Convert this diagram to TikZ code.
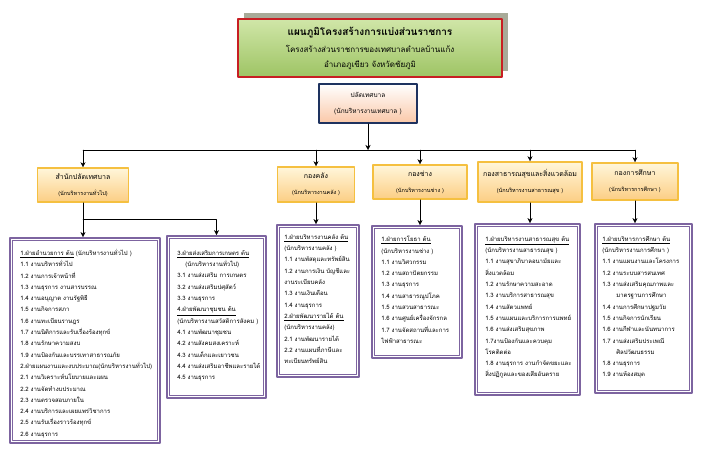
\documentclass[tikz,border=0pt]{standalone}
\usepackage{fontspec}
\newfontfamily\thaifont[Script=Thai]{Loma}
\usetikzlibrary{arrows.meta}
\definecolor{titlered}{RGB}{200,30,35}
\definecolor{titlegreen}{RGB}{158,196,100}
\definecolor{titlelight}{RGB}{208,230,168}
\definecolor{shadowgrey}{RGB}{168,170,152}
\definecolor{navy}{RGB}{30,50,95}
\definecolor{peach}{RGB}{250,200,168}
\definecolor{gold}{RGB}{245,192,64}
\definecolor{lightgold}{RGB}{255,246,218}
\definecolor{orangefill}{RGB}{252,206,132}
\definecolor{boxpurple}{RGB}{125,100,160}
\newcommand{\divtext}[2]{{\fontsize{7}{9}\selectfont #1}\\[4pt]{\fontsize{5.5}{7}\selectfont #2}}
\tikzset{
  titlebox/.style={draw=titlered, line width=1.6pt, top color=titlelight, bottom color=titlegreen,
    minimum width=264pt, minimum height=58pt, align=center, font=\fontsize{8}{15}\selectfont\thaifont},
  divbox/.style={draw=gold, line width=1.6pt, top color=lightgold, bottom color=orangefill,
    align=center, inner sep=0pt},
  subbox/.style={draw=boxpurple, line width=1.8pt, fill=white, inner sep=0pt},
  subline/.style={draw=boxpurple, line width=0.7pt},
  listtext/.style={anchor=north west, inner sep=0pt, align=left, font=\fontsize{6}{11.3}\selectfont\thaifont},
}
\begin{document}
\begin{tikzpicture}[x=1pt, y=-1pt, line join=round, line cap=round, >={Stealth[length=5pt,width=5pt]}, font=\thaifont]
\useasboundingbox[fill=white] (0,0) rectangle (702,465);
% title
\node[fill=shadowgrey, minimum width=264pt, minimum height=58pt] (titleshadow) at (376,42) {};
\node[titlebox] (title) at (370,48) {{\fontsize{10}{12}\selectfont\bfseries แผนภูมิโครงสร้างการแบ่งส่วนราชการ}\\[2pt]
  โครงสร้างส่วนราชการของเทศบาลตำบลบ้านแก้ง\\ อำเภอภูเขียว จังหวัดชัยภูมิ};
\node[draw=navy, line width=1.6pt, top color=white, bottom color=peach, minimum width=98pt, minimum height=39pt,
  align=center, font=\fontsize{6.5}{16}\selectfont\thaifont] (clerk) at (368,103.5) {ปลัดเทศบาล\\(นักบริหารงานเทศบาล )};
% divisions
\node[divbox, minimum width=91pt, minimum height=34pt] (office) at (83,185) {\divtext{สำนักปลัดเทศบาล}{(นักบริหารงานทั่วไป)}};
\node[divbox, minimum width=77pt, minimum height=35pt] (fin) at (316,184.5) {\divtext{กองคลัง}{(นักบริหารงานคลัง )}};
\node[divbox, minimum width=94pt, minimum height=34pt] (eng) at (420,182) {\divtext{กองช่าง}{(นักบริหารงานช่าง )}};
\node[divbox, minimum width=104pt, minimum height=40pt] (hlt) at (530,182) {\divtext{กองสาธารณสุขและสิ่งแวดล้อม}{(นักบริหารงานสาธารณสุข )}};
\node[divbox, minimum width=86pt, minimum height=37pt] (edu) at (635,181.5) {\divtext{กองการศึกษา}{(นักบริหารการศึกษา )}};
% sections
\node[subbox, minimum width=150pt, minimum height=205pt] (secA) at (85,340.5) {};
\node[subbox, minimum width=99pt, minimum height=162pt] (secB) at (216.5,317) {};
\node[subbox, minimum width=82pt, minimum height=152pt] (finsec) at (318,301) {};
\node[subbox, minimum width=90pt, minimum height=132pt] (engsec) at (417,292) {};
\node[subbox, minimum width=105pt, minimum height=171pt] (hltsec) at (527.5,309.5) {};
\node[subbox, minimum width=97pt, minimum height=169pt] (edusec) at (643.5,308.5) {};
\foreach \n in {secA,secB,finsec,engsec,hltsec,edusec}
  \draw[subline] ([shift={(3.5pt,-3.5pt)}]\n.north west) rectangle ([shift={(-3.5pt,3.5pt)}]\n.south east);
\node[listtext] (secAtext) at ([shift={(11pt,-12pt)}]secA.north west) {\underline{1.ฝ่ายอำนวยการ ต้น} (นักบริหารงานทั่วไป )\\
  1.1 งานบริหารทั่วไป\\ 1.2 งานการเจ้าหน้าที่\\ 1.3 งานธุรการ งานสารบรรณ\\ 1.4 งานอนุญาต งานรัฐพิธี\\
  1.5 งานกิจการสภา\\ 1.6 งานทะเบียนราษฎร\\ 1.7 งานนิติการและรับเรื่องร้องทุกข์\\ 1.8 งานรักษาความสงบ\\
  1.9 งานป้องกันและบรรเทาสาธารณภัย\\ 2.ฝ่ายแผนงานและงบประมาณ(นักบริหารงานทั่วไป)\\
  2.1 งานวิเคราะห์นโยบายและแผน\\ 2.2 งานจัดทำงบประมาณ\\ 2.3 งานตรวจสอบภายใน\\
  2.4 งานบริการและเผยแพร่วิชาการ\\ 2.5 งานรับเรื่องราวร้องทุกข์\\ 2.6 งานธุรการ};
\node[listtext] (secBtext) at ([shift={(11pt,-15pt)}]secB.north west) {\underline{3.ฝ่ายส่งเสริมการเกษตร ต้น}\\
  \hspace*{8pt}(นักบริหารงานทั่วไป)\\ 3.1 งานส่งเสริม การเกษตร\\ 3.2 งานส่งเสริมปศุสัตว์\\ 3.3 งานธุรการ\\
  \underline{4.ฝ่ายพัฒนาชุมชน ต้น}\\ (นักบริหารงานสวัสดิการสังคม )\\ 4.1 งานพัฒนาชุมชน\\
  4.2 งานสังคมสงเคราะห์\\ 4.3 งานเด็กและเยาวชน\\ 4.4 งานส่งเสริมอาชีพและรายได้\\ 4.5 งานธุรการ};
\node[listtext] (fintext) at ([shift={(8pt,-10pt)}]finsec.north west) {\underline{1.ฝ่ายบริหารงานคลัง ต้น}\\
  (นักบริหารงานคลัง )\\ 1.1 งานพัสดุและทรัพย์สิน\\ 1.2 งานการเงิน บัญชีและ\\ งานระเบียบคลัง\\
  1.3 งานเงินเดือน\\ 1.4 งานธุรการ\\ \underline{2.ฝ่ายพัฒนารายได้ ต้น}\\ (นักบริหารงานคลัง)\\
  2.1 งานพัฒนารายได้\\ 2.2 งานแผนที่ภาษีและ\\ ทะเบียนทรัพย์สิน};
\node[listtext] (engtext) at ([shift={(10pt,-11pt)}]engsec.north west) {\underline{1.ฝ่ายการโยธา ต้น}\\
  (นักบริหารงานช่าง )\\ 1.1 งานวิศวกรรม\\ 1.2 งานสถาปัตยกรรม\\ 1.3 งานธุรการ\\ 1.4 งานสาธารณูปโภค\\
  1.5 งานสวนสาธารณะ\\ 1.6 งานศูนย์เครื่องจักรกล\\ 1.7 งานจัดสถานที่และการ\\ ไฟฟ้าสาธารณะ};
\node[listtext] (hlttext) at ([shift={(11pt,-13pt)}]hltsec.north west) {\underline{1.ฝ่ายบริหารงานสาธารณสุข ต้น}\\
  (นักบริหารงานสาธารณสุข )\\ 1.1 งานสุขาภิบาลอนามัยและ\\ สิ่งแวดล้อม\\ 1.2 งานรักษาความสะอาด\\
  1.3 งานบริการสาธารณสุข\\ 1.4 งานสัตวแพทย์\\ 1.5 งานแผนและบริการการแพทย์\\ 1.6 งานส่งเสริมสุขภาพ\\
  1.7งานป้องกันและควบคุม\\ โรคติดต่อ\\ 1.8 งานธุรการ งานกำจัดขยะและ\\ สิ่งปฏิกูลและของเสียอันตราย};
\node[listtext] (edutext) at ([shift={(8pt,-13pt)}]edusec.north west) {\underline{1.ฝ่ายบริหารการศึกษา ต้น}\\
  (นักบริหารงานการศึกษา )\\ 1.1 งานแผนงานและโครงการ\\ 1.2 งานระบบสารสนเทศ\\ 1.3 งานส่งเสริมคุณภาพและ\\
  \hspace*{14pt}มาตรฐานการศึกษา\\ 1.4 งานการศึกษาปฐมวัย\\ 1.5 งานกิจการนักเรียน\\ 1.6 งานกีฬาและนันทนาการ\\
  1.7 งานส่งเสริมประเพณี\\ \hspace*{14pt}ศิลปวัฒนธรรม\\ 1.8 งานธุรการ\\ 1.9 งานห้องสมุด};
% connectors
\coordinate (busL) at (83,150);
\coordinate (busR) at (635,150);
\coordinate (offsplit) at (83,219);
\draw[->] (clerk) -- (clerk |- busL);
\draw (busL) -- (busR);
\foreach \n in {office,fin,eng,hlt,edu}
  \draw[->] (\n |- busL) -- (\n);
\draw (office) -- (offsplit);
\draw[->] (offsplit) -- (offsplit |- secA.north);
\draw[->] (offsplit) -| (secB.north);
\foreach \d/\s in {fin/finsec,eng/engsec,hlt/hltsec,edu/edusec}
  \draw[->] (\d) -- (\d |- \s.north);
\end{tikzpicture}
\end{document}
